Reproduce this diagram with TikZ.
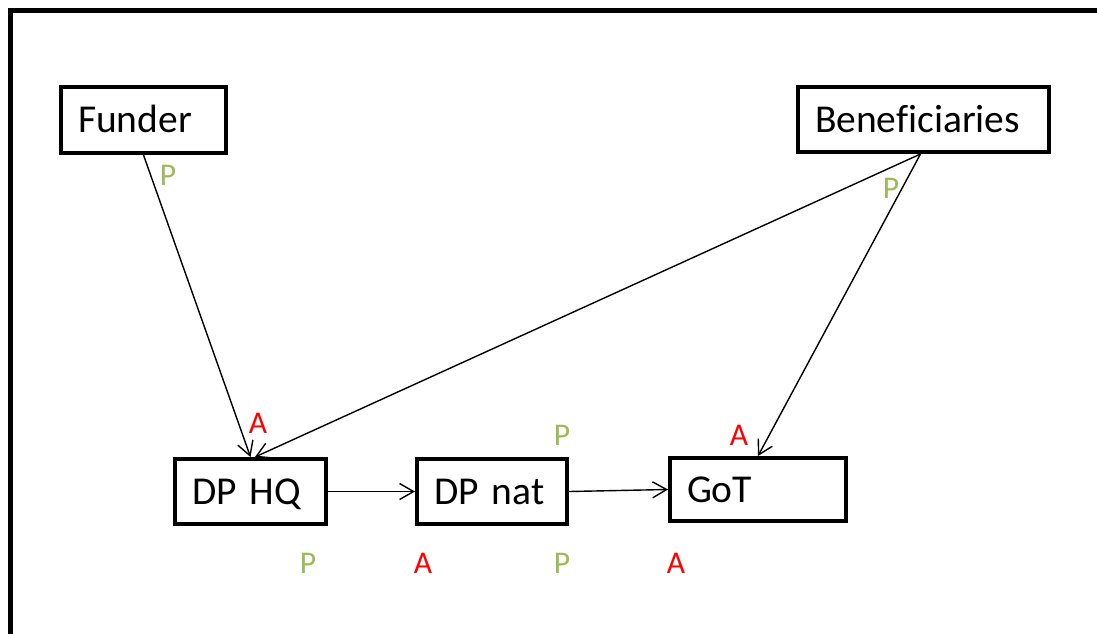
\documentclass[tikz,border=0pt]{standalone}
\usepackage{fontspec}
\setmainfont[Ligatures=NoCommon]{Carlito}
\usetikzlibrary{arrows.meta}
\definecolor{pgreen}{HTML}{9BBB59}
\definecolor{ared}{HTML}{FF0000}
\begin{document}
\begin{tikzpicture}[x=1pt,y=-1pt,
  box/.style={draw=black,line width=4pt,inner xsep=17pt,inner ysep=0pt,
    align=left,text height=25pt,text depth=0pt,minimum height=65pt,
    font=\fontsize{39.5}{46}\selectfont},
  conn/.style={line width=1.4pt,-{Straight Barb[length=14pt,width=16pt,line width=1.4pt]}},
  lbl/.style={anchor=base,inner sep=0pt,font=\fontsize{31.6}{38}\selectfont},
  plbl/.style={lbl,text=pgreen},
  albl/.style={lbl,text=ared}]
\useasboundingbox (0,0) rectangle (1097,634);
\draw[line width=4.5pt] (10.5,640) -- (10.5,10.5) -- (1100,10.5);
\node[box,minimum width=165pt,minimum height=66pt,text width=131pt] (funder) at (143.5,120) {Funder};
\node[box,minimum width=251pt,text width=217pt] (benef) at (923.5,119.5) {Beneficiaries};
\node[box,minimum width=151pt,text width=117pt] (dphq) at (250.5,491.5) {DP HQ};
\node[box,minimum width=150pt,text width=116pt] (dpnat) at (492,491.5) {DP nat};
\node[box,minimum width=176pt,minimum height=63pt,text width=142pt] (got) at (758,489.5) {GoT};
\draw[conn] (funder.south) -- (dphq.north);
\draw[conn] ([xshift=-3pt]benef.south) -- ([xshift=4.5pt]dphq.north);
\draw[conn] ([xshift=-3pt]benef.south) -- (got.north);
\draw[conn] (dphq.east) -- (dpnat.west);
\draw[conn] (dpnat.east) -- (got.west);
\node[plbl] (p1) at (168,185) {P};
\node[plbl] (p2) at (891,198) {P};
\node[albl] (a1) at (258,433) {A};
\node[plbl] (p3) at (562,445) {P};
\node[albl] (a2) at (739,445) {A};
\node[plbl] (p4) at (308,573) {P};
\node[albl] (a3) at (423,573) {A};
\node[plbl] (p5) at (562,573) {P};
\node[albl] (a4) at (676,573) {A};
\end{tikzpicture}
\end{document}
